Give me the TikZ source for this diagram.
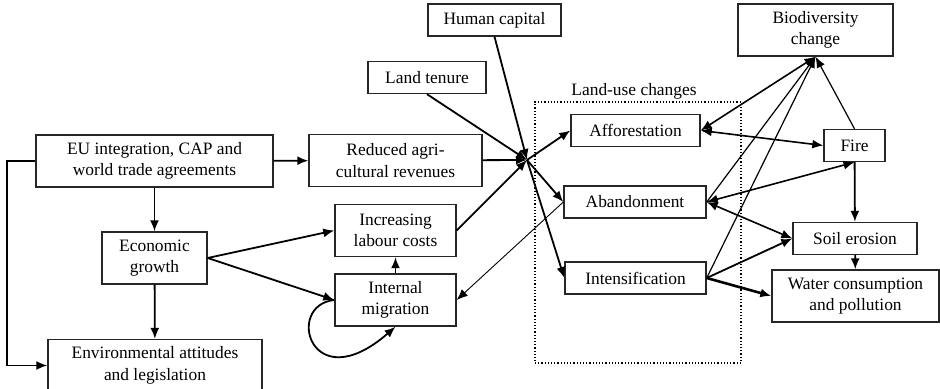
\documentclass[tikz,border=0pt]{standalone}
\usepackage{fontspec}
\setmainfont{Liberation Serif}
\usetikzlibrary{arrows.meta}

\begin{document}
\begin{tikzpicture}[x=0.5pt,y=-0.5pt,align=center,>={Latex[length=5.5pt,width=4.5pt]},font=\fontsize{8.7}{10.8}\selectfont]
\tikzstyle{factor}=[draw=black!85,line width=0.7pt,inner sep=2pt,minimum height=16pt]
\tikzstyle{twoline}=[factor,minimum height=26pt]
\tikzstyle{link}=[->,line width=0.9pt]
\tikzstyle{mutual}=[<->,line width=0.8pt]
\tikzstyle{faint}=[->,line width=0.6pt]
\tikzstyle{weak}=[->,line width=0.45pt]
\tikzstyle{strong}=[->,line width=1.3pt]

\useasboundingbox (0,0) rectangle (940,389);

% driving forces
\node[twoline,minimum width=118.5pt] (eu) at (154.5,161) {EU integration, CAP and\\world trade agreements};
\node[twoline,minimum width=52.5pt] (growth) at (154.5,258) {Economic\\growth};
\node[twoline,minimum width=107pt] (env) at (155,365.5) {Environmental attitudes\\and legislation};
\node[twoline,minimum width=86.5pt] (revenues) at (395.5,160.5) {Reduced agri-\\cultural revenues};
\node[factor,minimum width=66.5pt] (human) at (494.5,20) {Human capital};
\node[factor,minimum width=59pt] (tenure) at (427,77.5) {Land tenure};
\node[twoline,minimum width=60.5pt] (labour) at (395.5,230.5) {Increasing\\labour costs};
\node[twoline,minimum width=60.5pt] (migration) at (395.5,300) {Internal\\migration};
\coordinate (hub) at (527,160);

% land-use changes
\node[draw,densely dotted,line width=0.6pt,minimum width=103pt,minimum height=130.5pt] (landuse) at (638,232.5) {};
\node[anchor=south,inner sep=1pt] (landuselabel) at ([xshift=-2pt]landuse.north) {Land-use changes};
\node[factor,minimum width=64.5pt] (afforest) at (635.5,130.5) {Afforestation};
\node[factor,minimum width=71pt] (abandon) at (635,202) {Abandonment};
\node[factor,minimum width=70.5pt] (intens) at (635.5,278) {Intensification};

% impacts
\node[twoline,minimum width=77.5pt] (bio) at (815.5,30) {Biodiversity\\change};
\node[factor,minimum width=30.5pt] (fire) at (854.5,145.5) {Fire};
\node[factor,minimum width=62pt] (soil) at (855,238.5) {Soil erosion};
\node[twoline,minimum width=83.5pt] (water) at (855.5,296) {Water consumption\\and pollution};

\path
  (eu) edge[link] (revenues)
  (eu) edge[link] (growth)
  (growth) edge[link] (env)
  (growth.east) edge[link] (labour.west)
  (growth.east) edge[link] (migration.west)
  (migration) edge[link] (labour)
  (revenues) edge[link] (hub)
  (tenure.south) edge[link] (hub)
  (human.south) edge[link] (hub)
  (labour.east) edge[link] (hub)
  (hub) edge[link] (afforest.west)
  (hub) edge[link] (abandon.west)
  (hub) edge[link] (intens.west)
  (abandon.west) edge[weak] (migration.east)
  (afforest.east) edge[mutual] (fire.west)
  (afforest.east) edge[mutual] (bio.south)
  (abandon.east) edge[mutual] (fire.south)
  (abandon.east) edge[mutual] (soil.west)
  (abandon.east) edge[faint] (bio.south)
  (intens.east) edge[faint] (bio.south)
  (intens.east) edge[link] (soil.west)
  (intens.east) edge[strong] (water.west)
  (fire.north) edge[faint] (bio.south)
  (fire) edge[link] (soil)
  (soil) edge[link] (water);

\draw[link] (eu.west) -- ++(-28,0) |- (env.west);
\draw[link] (migration.west) .. controls +(-50,5) and +(-85,74) .. (migration.south);
\end{tikzpicture}
\end{document}
